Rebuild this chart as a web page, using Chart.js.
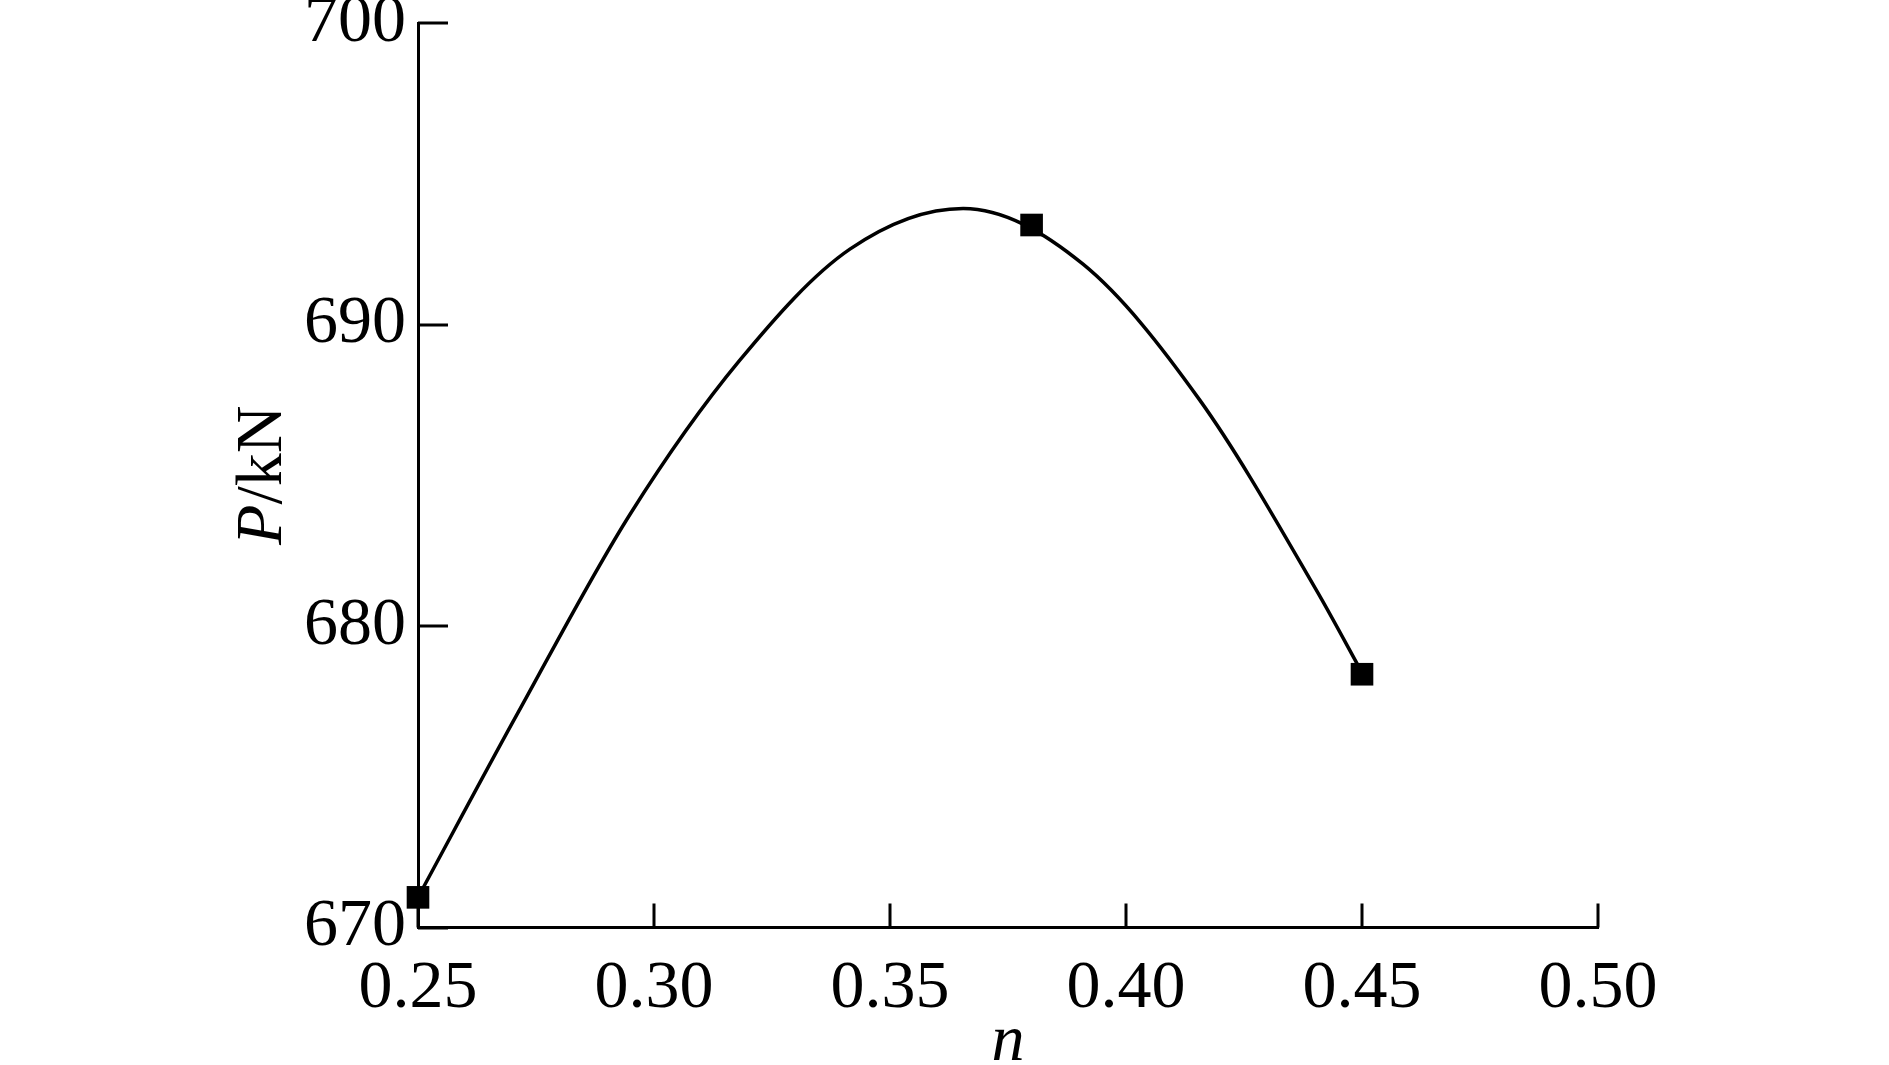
<!DOCTYPE html>
<html>
<head>
<meta charset="utf-8">
<script src="https://cdn.jsdelivr.net/npm/chart.js@4"></script>
<style>
  html, body { margin: 0; padding: 0; background: #fff; }
  canvas { display: block; }
</style>
</head>
<body>
<canvas id="grafico" width="1889" height="1065"></canvas>
<script>
// measured points
const pontosN = [0.25, 0.38, 0.45];
const pontosP = [671.0, 693.3, 678.4];

// fitted curve
const curvaN = [0.250, 0.2711, 0.2949, 0.3181, 0.3415, 0.3655, 0.3909, 0.4156, 0.4403, 0.4502];
const curvaP = [671.0, 677.1, 683.7, 688.8, 692.5, 693.85, 692.0, 687.5, 681.2, 678.4];

const ticksX = [0.25, 0.30, 0.35, 0.40, 0.45, 0.50];
const ticksY = [670, 680, 690, 700];

const fonte = "'Liberation Serif', 'Times New Roman', serif";

// inward tick marks + y title with italic P
const extras = {
    id: 'extras',
    afterDraw(chart) {
        const ctx = chart.ctx;
        const x = chart.scales.x;
        const y = chart.scales.y;
        const area = chart.chartArea;
        ctx.save();
        ctx.strokeStyle = '#000';
        ctx.lineWidth = 3;
        ctx.beginPath();
        ticksX.forEach(v => {
            const px = Math.round(x.getPixelForValue(v));
            ctx.moveTo(px, area.bottom);
            ctx.lineTo(px, area.bottom - 24);
        });
        ticksY.forEach(v => {
            const py = Math.round(y.getPixelForValue(v));
            ctx.moveTo(area.left, py);
            ctx.lineTo(area.left + 30, py);
        });
        ctx.stroke();

        // y axis title: P/kN
        ctx.translate(264, (area.top + area.bottom) / 2);
        ctx.rotate(-Math.PI / 2);
        ctx.fillStyle = '#000';
        ctx.textBaseline = 'middle';
        const fP = 'italic 66px ' + fonte;
        const fR = '66px ' + fonte;
        ctx.font = fP;
        const wP = ctx.measureText('P').width;
        ctx.font = fR;
        const wR = ctx.measureText('/kN').width;
        let inicio = -(wP + wR) / 2;
        ctx.textAlign = 'left';
        ctx.font = fP;
        ctx.fillText('P', inicio, 0);
        ctx.font = fR;
        ctx.fillText('/kN', inicio + wP, 0);
        ctx.restore();
    }
};

new Chart(document.getElementById('grafico'), {
    type: 'scatter',
    data: {
        datasets: [
            {
                data: curvaN.map((n, i) => ({ x: n, y: curvaP[i] })),
                showLine: true,
                borderColor: '#000',
                borderWidth: 3.5,
                pointRadius: 0,
                cubicInterpolationMode: 'monotone',
                clip: false
            },
            {
                data: pontosN.map((n, i) => ({ x: n, y: pontosP[i] })),
                showLine: false,
                pointStyle: 'rect',
                pointRadius: 16,
                backgroundColor: '#000',
                borderColor: '#000',
                borderWidth: 0,
                clip: false
            }
        ]
    },
    options: {
        responsive: false,
        animation: false,
        layout: { padding: { top: 23, right: 291, left: 0, bottom: 0 } },
        plugins: { legend: { display: false }, tooltip: { enabled: false } },
        scales: {
            x: {
                type: 'linear',
                min: 0.25,
                max: 0.50,
                afterBuildTicks: s => { s.ticks = ticksX.map(v => ({ value: v })); },
                afterFit: s => { s.height = 137.5; s.paddingLeft = 0; s.paddingRight = 0; },
                grid: { display: false, drawTicks: false },
                border: { display: true, color: '#000', width: 3 },
                ticks: {
                    color: '#000',
                    font: { family: fonte, size: 68 },
                    padding: 21,
                    maxRotation: 0,
                    callback: v => v.toFixed(2)
                },
                title: {
                    display: true,
                    text: 'n',
                    color: '#000',
                    font: { family: fonte, size: 66, style: 'italic' },
                    padding: { top: 0, bottom: -17 }
                }
            },
            y: {
                min: 670,
                max: 700,
                afterBuildTicks: s => { s.ticks = ticksY.map(v => ({ value: v })); },
                afterFit: s => { s.width = 418; s.paddingTop = 0; s.paddingBottom = 0; },
                grid: { display: false, drawTicks: false },
                border: { display: true, color: '#000', width: 3 },
                ticks: {
                    color: '#000',
                    font: { family: fonte, size: 68 },
                    padding: 12
                }
            }
        }
    },
    plugins: [extras]
});
</script>
</body>
</html>
